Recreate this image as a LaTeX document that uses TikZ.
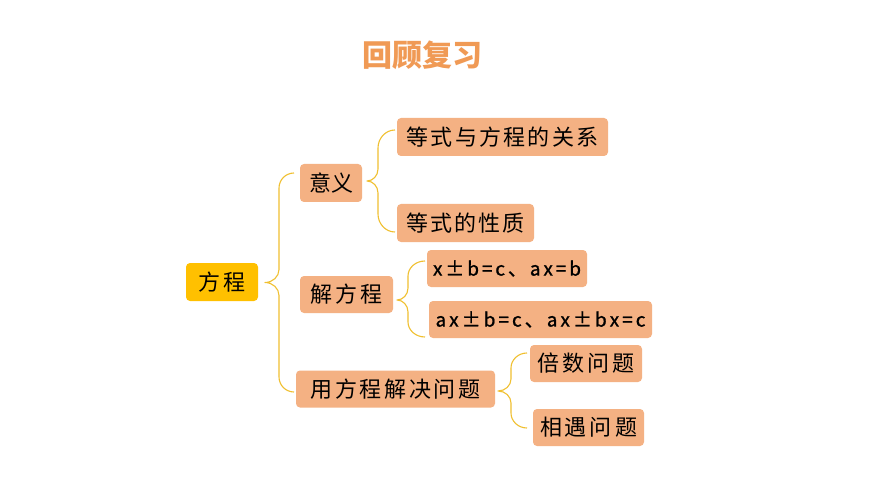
\documentclass[tikz,border=0pt]{standalone}
\usepackage{fontspec}
\setmainfont{Noto Sans CJK SC}
\newfontfamily\mfont[FakeBold=1]{Noto Sans CJK SC}
\usetikzlibrary{calc}
\definecolor{boxc}{HTML}{F4B183}
\definecolor{rootc}{HTML}{FFC000}
\definecolor{linec}{HTML}{F0C030}
\definecolor{titlec}{HTML}{F09A55}
\makeatletter
% spread the characters of #2 over a width of #1 pt
\newcommand\spr[2]{\makebox[#1pt][s]{\spr@a#2\relax}}
\def\spr@a#1#2{#1\ifx#2\relax\else\hfil\expandafter\spr@a\expandafter#2\fi}
\makeatother
% #1 top end, #2 tip, #3 bottom end, #4 vertical x, #5 end radius, #6 tip radius
\newcommand\brc[6]{%
  \draw[br] (#1) .. controls ($(#1)!0.55!(#1 -| #4)$) and ($(#1 -| #4)+(0,0.45*#5)$) .. ($(#1 -| #4)+(0,#5)$)
    -- ($(#2 -| #4)+(0,-#6)$) .. controls ($(#2 -| #4)+(0,-0.45*#6)$) and ($(#2)!0.55!(#2 -| #4)$) .. (#2)
    .. controls ($(#2)!0.55!(#2 -| #4)$) and ($(#2 -| #4)+(0,0.45*#6)$) .. ($(#2 -| #4)+(0,#6)$)
    -- ($(#3 -| #4)+(0,-#5)$) .. controls ($(#3 -| #4)+(0,-0.45*#5)$) and ($(#3)!0.55!(#3 -| #4)$) .. (#3);}
\tikzset{
  bx/.style={fill=boxc, rounded corners=4pt, inner sep=0pt, text=black,
    font=\fontsize{22}{22}\selectfont},
  mx/.style={bx, font=\fontsize{19}{19}\mfont},
  rootbox/.style={bx, fill=rootc},
  br/.style={draw=linec, line width=1.1pt, line join=round},
}
\begin{document}
\begin{tikzpicture}[x=1pt,y=-1pt]
\useasboundingbox[fill=white] (0,0) rectangle (870,489);
\node[font=\fontsize{30}{30}\selectfont\bfseries, text=titlec] (title) at (422.5,55) {回顾复习};

\node[rootbox, minimum width=72, minimum height=38] (root) at (222,282) {\spr{47}{方程}\hspace{9pt}};
\node[bx, minimum width=62, minimum height=38] (yiyi) at (331,183) {\spr{44}{意义}};
\node[bx, minimum width=211, minimum height=38] (gx) at (502.5,137) {\spr{192}{等式与方程的关系}};
\node[bx, minimum width=137, minimum height=38] (xz) at (465.5,223) {\spr{118}{等式的性质}};
\node[bx, minimum width=93, minimum height=37] (jfc) at (346.5,294.5) {\spr{72}{解方程}\hspace{7pt}};
\node[mx, minimum width=160, minimum height=37] (e1) at (507,268.5) {\spr{148}{x±b=c、ax=b}\hspace{2pt}};
\node[mx, minimum width=223, minimum height=37] (e2) at (540.5,319.5) {\spr{210}{ax±b=c、ax±bx=c}\hspace{3pt}};
\node[bx, minimum width=199, minimum height=37] (yong) at (395.5,389) {\spr{170}{用方程解决问题}\hspace{13pt}};
\node[bx, minimum width=112, minimum height=37] (bs) at (586,363.5) {\spr{97}{倍数问题}};
\node[bx, minimum width=111, minimum height=37] (xy) at (588.5,427.5) {\spr{97}{相遇问题}};

% brace 1: root
\coordinate (t1) at (265,282.5);
\coordinate (v1) at (279,0);
\coordinate (a1) at (294,173);
\coordinate (b1) at (294,392);
\brc{a1}{t1}{b1}{v1}{15}{13}
% brace 2: yiyi
\coordinate (t2) at (367,181);
\coordinate (v2) at (378,0);
\coordinate (a2) at (395,130);
\coordinate (b2) at (395,232);
\brc{a2}{t2}{b2}{v2}{18}{12}
% brace 3: jfc
\coordinate (t3) at (397,300);
\coordinate (v3) at (408,0);
\coordinate (a3) at (425,261);
\coordinate (b3) at (425,337);
\brc{a3}{t3}{b3}{v3}{15}{12}
% brace 4: yong
\coordinate (t4) at (498,391);
\coordinate (v4) at (511,0);
\coordinate (a4) at (527,353);
\coordinate (b4) at (527,428);
\brc{a4}{t4}{b4}{v4}{15}{12}
\end{tikzpicture}
\end{document}
